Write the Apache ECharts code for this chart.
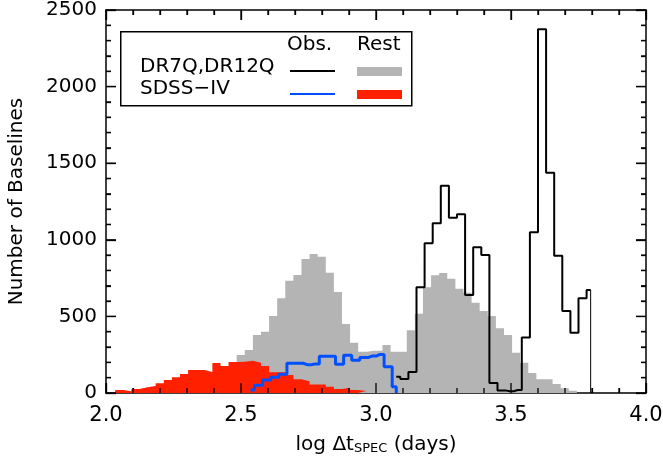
<!DOCTYPE html>
<html lang="en">
<head>
    <meta charset="UTF-8">
    <title>Baselines histogram</title>
    <style>
        html, body { margin: 0; padding: 0; background: #fff; }
        #chart { width: 663px; height: 462px; }
    </style>
    <script src="https://cdn.jsdelivr.net/npm/echarts/dist/echarts.min.js"></script>
</head>
<body>
    <div id="chart"></div>
    <script>
        // bin width in log days
        var binWidth = 0.03;

        // filled histograms: left edge of first bin + counts
        var grayStart = 2.484;
        var grayVals = [248, 281, 379, 400, 503, 618, 733, 770, 875, 907, 890, 785, 659, 450, 328, 270, 276, 276, 313, 270,
            270, 410, 517, 690, 768, 783, 746, 681, 655, 589, 535, 503, 423, 379, 263, 198, 131, 89, 89, 59, 31, 15];
        var redStart = 2.034;
        var redVals = [20, 12, 26, 37, 46, 63, 85, 102, 124, 150, 150, 137, 196, 176, 202, 204, 211, 198, 176, 135,
            135, 117, 89, 76, 55, 55, 41, 26, 35, 20, 13];

        // outline histograms: centre of first bin + counts
        var blackStart = 3.075;
        var blackVals = [106, 91, 137, 690, 977, 1108, 1353, 1144, 1166, 640, 951, 901, 65, 17, 11, 20, 362, 1049,
            2374, 1438, 896, 535, 393, 618, 672];
        var blueStart = 2.535;
        var blueVals = [20, 50, 85, 103, 122, 195, 194, 185, 190, 240, 240, 188, 246, 213, 231, 241, 252, 172, 41];

        var xTicks = [2.0, 2.5, 3.0, 3.5, 4.0];
        var yTicks = [0, 500, 1000, 1500, 2000, 2500];
        var minorPerMajor = 5;

        var font = 'DejaVu Sans';
        var xMin = xTicks[0], xMax = xTicks[xTicks.length - 1];
        var yMin = yTicks[0], yMax = yTicks[yTicks.length - 1];

        function edgeData(start, vals) {
            var d = vals.map(function (v, i) { return [start + i * binWidth, v]; });
            d.push([start + vals.length * binWidth, vals[vals.length - 1]]);
            return d;
        }
        function centreData(start, vals) {
            return vals.map(function (v, i) { return [start + i * binWidth, v]; });
        }

        var blueData = centreData(blueStart, blueVals);
        blueData.push([blueData[blueData.length - 1][0], 0]);
        var blackData = centreData(blackStart, blackVals);
        var blackEnd = blackData[blackData.length - 1];

        // inward ticks on all four sides: [x, y, isY, isMajor], kept inside the axis ranges
        function tickItems(ticks, isY) {
            var out = [];
            function add(v, major) {
                out.push(isY ? [xMin, v, 1, major] : [v, yMin, 0, major]);
            }
            for (var i = 0; i < ticks.length; i++) {
                add(ticks[i], 1);
                if (i < ticks.length - 1) {
                    var step = (ticks[i + 1] - ticks[i]) / minorPerMajor;
                    for (var k = 1; k < minorPerMajor; k++) add(ticks[i] + k * step, 0);
                }
            }
            return out;
        }
        var tickData = tickItems(xTicks, 0).concat(tickItems(yTicks, 1));

        function axisBits(isX, pos, labels) {
            var ax = {
                type: 'value', position: pos,
                min: isX ? xMin : yMin, max: isX ? xMax : yMax,
                interval: isX ? 0.5 : 500,
                axisLine: { show: true, onZero: false, lineStyle: { color: '#000', width: 1.5 } },
                axisTick: { show: true, inside: true, length: 10, lineStyle: { color: '#000', width: 1.3 } },
                minorTick: { show: true, splitNumber: minorPerMajor, length: 5, lineStyle: { color: '#000', width: 1.3 } },
                splitLine: { show: false },
                axisLabel: { show: false }
            };
            if (labels) {
                ax.axisLabel = {
                    show: true, fontFamily: font, color: '#000',
                    fontSize: isX ? 21 : 20, margin: isX ? 12 : 9,
                    formatter: isX ? function (v) { return v.toFixed(1); } : function (v) { return String(v); }
                };
            }
            return ax;
        }

        var xBottom = axisBits(true, 'bottom', true);
        xBottom.name = '{a|log Δt}{s|SPEC}{a| (days)}';
        xBottom.nameLocation = 'middle';
        xBottom.nameGap = 41;
        xBottom.nameTextStyle = { rich: {
            a: { fontFamily: font, fontSize: 20, color: '#000' },
            s: { fontFamily: font, fontSize: 13, color: '#000', padding: [8, 0, 0, 0] }
        } };
        var yLeft = axisBits(false, 'left', true);
        yLeft.name = 'Number of Baselines';
        yLeft.nameLocation = 'middle';
        yLeft.nameGap = 79;
        yLeft.nameTextStyle = { fontFamily: font, fontSize: 20, color: '#000' };

        var chart = echarts.init(document.getElementById('chart'));
        chart.setOption({
            animation: false,
            grid: { left: 106, right: 17, top: 10, bottom: 69, outerBoundsMode: 'none', containLabel: false },
            xAxis: [xBottom, axisBits(true, 'top', false)],
            yAxis: [yLeft, axisBits(false, 'right', false)],
            series: [{
                name: 'DR7Q,DR12Q Rest', type: 'line', step: 'end', data: edgeData(grayStart, grayVals),
                symbol: 'none', lineStyle: { width: 0 }, areaStyle: { color: '#b4b4b4', opacity: 1 }, z: 1
            }, {
                name: 'SDSS-IV Rest', type: 'line', step: 'end', data: edgeData(redStart, redVals),
                symbol: 'none', lineStyle: { width: 0 }, areaStyle: { color: '#ff2000', opacity: 1 }, z: 2
            }, {
                name: 'DR7Q,DR12Q Obs.', type: 'line', step: 'middle', data: blackData,
                symbol: 'none', lineStyle: { color: '#000', width: 2 }, z: 3
            }, {
                name: 'DR7Q,DR12Q Obs. end', type: 'line', data: [[blackEnd[0], 0], blackEnd],
                symbol: 'none', lineStyle: { color: '#000', width: 1 }, z: 3
            }, {
                name: 'SDSS-IV Obs.', type: 'line', step: 'middle', data: blueData,
                symbol: 'none', lineStyle: { color: '#0050ff', width: 3 }, z: 4
            }, {
                name: 'ticks', type: 'custom', data: tickData, z: 5, silent: true, clip: false,
                encode: { x: 0, y: 1 },
                renderItem: function (params, api) {
                    var isY = api.value(2), v = isY ? api.value(1) : api.value(0);
                    var len = api.value(3) ? 10 : 5;
                    var a, b, lines;
                    if (isY) {
                        a = api.coord([xMin, v]); b = api.coord([xMax, v]);
                        lines = [[a[0], a[1], a[0] + len, a[1]], [b[0], b[1], b[0] - len, b[1]]];
                    } else {
                        a = api.coord([v, yMin]); b = api.coord([v, yMax]);
                        lines = [[a[0], a[1], a[0], a[1] - len], [b[0], b[1], b[0], b[1] + len]];
                    }
                    return {
                        type: 'group',
                        children: lines.map(function (l) {
                            return { type: 'line', shape: { x1: l[0], y1: l[1], x2: l[2], y2: l[3] },
                                style: { stroke: '#000', lineWidth: 1.3 } };
                        })
                    };
                }
            }],
            graphic: [
                { type: 'rect', left: 120, top: 31, z: 10,
                  shape: { width: 291, height: 74 }, style: { fill: '#fff', stroke: '#000', lineWidth: 1.5 } },
                { type: 'text', left: 287, top: 35, z: 11,
                  style: { text: 'Obs.', font: '20px ' + font, fill: '#000' } },
                { type: 'text', left: 357, top: 35, z: 11,
                  style: { text: 'Rest', font: '20px ' + font, fill: '#000' } },
                { type: 'text', left: 140, top: 57, z: 11,
                  style: { text: 'DR7Q,DR12Q', font: '20px ' + font, fill: '#000' } },
                { type: 'text', left: 140, top: 79, z: 11,
                  style: { text: 'SDSS−IV', font: '20px ' + font, fill: '#000' } },
                { type: 'line', z: 11, shape: { x1: 290, y1: 71, x2: 335, y2: 71 },
                  style: { stroke: '#000', lineWidth: 2 } },
                { type: 'rect', z: 11, shape: { x: 357, y: 67, width: 45, height: 9 },
                  style: { fill: '#b4b4b4' } },
                { type: 'line', z: 11, shape: { x1: 290, y1: 94, x2: 335, y2: 94 },
                  style: { stroke: '#0050ff', lineWidth: 2 } },
                { type: 'rect', z: 11, shape: { x: 357, y: 90, width: 45, height: 9 },
                  style: { fill: '#ff2000' } }
            ]
        });
    </script>
</body>
</html>
